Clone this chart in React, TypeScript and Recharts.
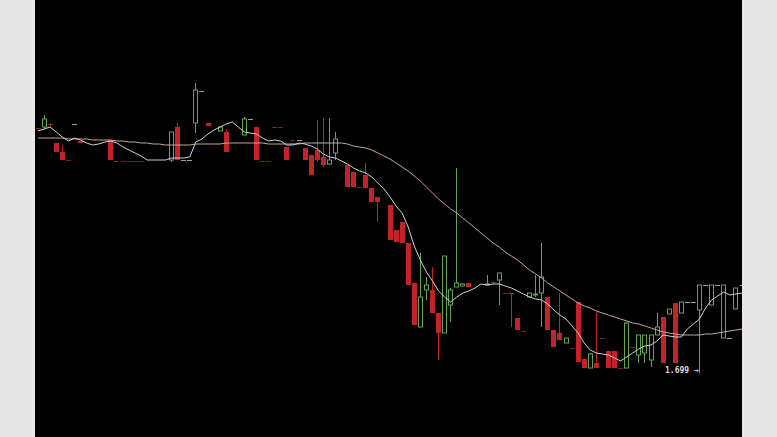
import React from "react";
import { ComposedChart, Bar, Line, XAxis, YAxis } from "recharts";

// Price series (null = no trade in that slot)
const openPrices: (number | null)[] = [
  4.09, 4.10, 4.13, 3.94, 3.85, 3.77, 4.13, 3.96, null, null,
  null, null, 3.97, 3.76, 3.76, 3.76, 3.76, 3.76, null, null,
  null, null, 3.77, 4.10, 3.77, 3.77, 4.14, 4.46, 4.14, null,
  4.06, 4.05, null, null, 4.02, 4.18, 4.10, 3.76, 3.76, 4.10,
  4.10, 3.90, 3.97, 3.97, 3.89, 3.82, 3.87, 3.80, 3.73, 3.84,
  null, 3.72, 3.65, 3.50, 3.62, 3.49, 3.40, null, 3.32, 3.07,
  3.15, 2.94, 2.54, 2.10, 2.47, 2.47, 2.24, 2.04, 2.32, 2.50,
  2.51, 2.54, null, null, 2.52, 2.55, 2.57, 2.44, 2.44, 2.19,
  2.06, 2.40, 2.42, 2.44, 2.40, 2.07, 2.04, 1.94, 1.89, 2.35,
  1.78, 1.69, 1.74, 1.99, 1.86, 1.86, 1.69, 1.69, 1.90, 1.82,
  1.84, 1.77, 2.02, 2.20, 2.23, 2.34, 2.24, 2.35, 2.35, 2.27,
  2.52, 2.32, 2.52, 1.99, 1.99, 2.28, 2.52,
];
const highPrices: (number | null)[] = [
  4.09, 4.22, 4.14, 3.94, 3.92, 3.77, 4.13, 3.96, null, null,
  null, null, 3.97, 3.76, 3.76, 3.76, 3.76, 3.76, null, null,
  null, null, 4.05, 4.14, 3.77, 3.77, 4.54, 4.46, 4.14, null,
  4.10, 4.08, null, null, 4.20, 4.18, 4.10, 3.76, 3.76, 4.10,
  4.10, 3.90, 3.97, 3.97, 3.89, 3.82, 4.17, 4.19, 4.19, 4.05,
  null, 3.72, 3.65, 3.50, 3.74, 3.49, 3.40, null, 3.32, 3.07,
  3.15, 2.94, 2.54, 2.84, 2.60, 2.70, 2.24, 2.81, 2.49, 3.69,
  2.54, 2.54, null, null, 2.62, 2.56, 2.64, 2.44, 2.44, 2.19,
  2.06, 2.44, 2.62, 2.94, 2.40, 2.07, 2.44, 1.99, 1.89, 2.35,
  1.78, 1.84, 2.25, 1.99, 1.86, 1.86, 1.69, 2.15, 1.90, 2.02,
  2.02, 2.02, 2.24, 2.20, 2.28, 2.34, 2.35, 2.35, 2.35, 2.52,
  2.52, 2.52, 2.52, 2.52, 1.99, 2.49, 2.52,
];
const lowPrices: (number | null)[] = [
  4.09, 4.09, 4.09, 3.85, 3.77, 3.77, 4.13, 3.94, null, null,
  null, null, 3.77, 3.76, 3.76, 3.76, 3.76, 3.76, null, null,
  null, null, 3.75, 3.77, 3.77, 3.77, 4.04, 4.46, 4.11, null,
  4.06, 3.85, null, null, 4.02, 4.18, 3.77, 3.76, 3.76, 4.10,
  4.10, 3.77, 3.97, 3.97, 3.77, 3.62, 3.75, 3.70, 3.72, 3.77,
  null, 3.50, 3.50, 3.50, 3.49, 3.35, 3.15, null, 2.97, 2.95,
  2.94, 2.52, 2.12, 2.10, 2.37, 2.24, 1.77, 2.04, 2.15, 2.50,
  2.51, 2.50, null, null, 2.52, 2.53, 2.32, 2.44, 2.10, 2.07,
  2.06, 2.40, 2.40, 2.10, 2.07, 1.90, 1.97, 1.94, 1.89, 1.75,
  1.69, 1.69, 1.69, 1.99, 1.69, 1.69, 1.69, 1.69, 1.90, 1.74,
  1.74, 1.70, 2.02, 1.74, 2.23, 1.74, 2.24, 2.35, 2.35, 1.64,
  2.52, 2.32, 2.52, 1.99, 1.99, 2.28, 2.52,
];
const closePrices: (number | null)[] = [
  4.09, 4.18, 4.13, 3.85, 3.77, 3.77, 4.13, 3.94, null, null,
  null, null, 3.77, 3.76, 3.76, 3.76, 3.76, 3.76, null, null,
  null, null, 4.05, 3.77, 3.77, 3.77, 4.47, 4.46, 4.11, null,
  4.10, 3.85, null, null, 4.18, 4.18, 3.77, 3.76, 3.76, 4.10,
  4.10, 3.77, 3.97, 3.97, 3.77, 3.62, 3.77, 3.72, 3.77, 3.98,
  null, 3.50, 3.50, 3.50, 3.49, 3.35, 3.35, null, 2.97, 2.95,
  2.94, 2.52, 2.12, 2.40, 2.52, 2.24, 2.04, 2.81, 2.47, 2.54,
  2.53, 2.50, null, null, 2.53, 2.55, 2.64, 2.44, 2.43, 2.07,
  2.06, 2.44, 2.43, 2.60, 2.07, 1.90, 1.97, 1.99, 1.89, 1.75,
  1.69, 1.83, 1.69, 1.99, 1.69, 1.69, 1.69, 2.14, 1.90, 2.02,
  2.02, 2.02, 2.10, 1.74, 2.28, 1.74, 2.35, 2.35, 2.35, 2.52,
  2.52, 2.52, 2.52, 2.52, 1.99, 2.49, 2.52,
];
// Moving-average lines
const fastMA: number[] = [
  4.06, 4.08, 4.10, 4.05, 4.00, 3.96, 3.99, 3.97, 3.94, 3.92,
  3.93, 3.95, 3.96, 3.94, 3.90, 3.87, 3.84, 3.81, 3.77, 3.77,
  3.77, 3.77, 3.79, 3.79, 3.79, 3.80, 3.95, 3.98, 4.03, 4.07,
  4.10, 4.13, 4.15, 4.10, 4.05, 4.04, 4.03, 3.99, 3.96, 3.97,
  3.96, 3.92, 3.92, 3.94, 3.93, 3.91, 3.88, 3.83, 3.80, 3.79,
  3.76, 3.73, 3.69, 3.66, 3.64, 3.60, 3.54, 3.48, 3.40, 3.31,
  3.24, 3.10, 2.91, 2.77, 2.65, 2.56, 2.46, 2.40, 2.35, 2.40,
  2.44, 2.46, 2.49, 2.53, 2.52, 2.53, 2.53, 2.51, 2.49, 2.46,
  2.43, 2.40, 2.38, 2.37, 2.33, 2.27, 2.22, 2.18, 2.11, 2.04,
  1.94, 1.87, 1.84, 1.83, 1.82, 1.79, 1.76, 1.80, 1.84, 1.88,
  1.91, 1.92, 1.96, 2.02, 2.01, 2.00, 2.00, 2.08, 2.13, 2.18,
  2.29, 2.37, 2.41, 2.45, 2.42, 2.43, 2.44,
];
const slowMA: number[] = [
  3.99, 3.99, 3.99, 3.99, 3.99, 3.98, 3.98, 3.98, 3.98, 3.97,
  3.97, 3.97, 3.97, 3.96, 3.96, 3.95, 3.95, 3.94, 3.94, 3.93,
  3.93, 3.92, 3.92, 3.92, 3.92, 3.92, 3.93, 3.93, 3.93, 3.93,
  3.93, 3.94, 3.94, 3.94, 3.94, 3.94, 3.94, 3.94, 3.93, 3.93,
  3.93, 3.93, 3.93, 3.93, 3.94, 3.94, 3.94, 3.94, 3.94, 3.94,
  3.94, 3.93, 3.91, 3.90, 3.89, 3.87, 3.84, 3.81, 3.78, 3.74,
  3.70, 3.66, 3.61, 3.56, 3.50, 3.44, 3.38, 3.33, 3.28, 3.24,
  3.19, 3.14, 3.09, 3.04, 2.99, 2.94, 2.90, 2.85, 2.81, 2.77,
  2.72, 2.67, 2.63, 2.59, 2.54, 2.50, 2.46, 2.42, 2.38, 2.34,
  2.31, 2.29, 2.26, 2.24, 2.22, 2.20, 2.18, 2.16, 2.14, 2.13,
  2.11, 2.09, 2.07, 2.05, 2.04, 2.03, 2.02, 2.02, 2.02, 2.02,
  2.03, 2.03, 2.04, 2.05, 2.06, 2.07, 2.08,
];
const priceDomain: [number, number] = [1.0, 5.37];
const lowLabel = "1.699 →";

const data = openPrices.map((o, i) => ({
  slot: i,
  open: o,
  high: highPrices[i],
  low: lowPrices[i],
  close: closePrices[i],
  range: o == null ? null : [lowPrices[i] as number, highPrices[i] as number],
  fast: fastMA[i],
  slow: slowMA[i],
}));

const RED = "#c4222b";
const GREEN = "#64a552";
const DOJI_RED = "#7a2424";
const DOJI_GRAY = "#a0a0a0";

function prevClose(i: number): number | null {
  for (let k = i - 1; k >= 0; k--) {
    if (closePrices[k] != null) return closePrices[k];
  }
  return null;
}

const Candle = (props: any) => {
  const { x, y, width, height, payload, index } = props;
  if (!payload || payload.open == null || y == null) return null;
  const { open, close, high, low } = payload;
  const span = high - low;
  const h = Math.abs(height || 0);
  const toY = (v: number) => (span > 0 ? y + ((high - v) / span) * h : y);
  const cx = Math.floor(x + width / 2) + 0.5;
  const yH = toY(high);
  const yL = toY(low);
  const yO = toY(open);
  const yC = toY(close);
  if (open === close) {
    const pc = prevClose(index);
    const col = pc != null && close > pc ? DOJI_GRAY : DOJI_RED;
    const yy = Math.round(yO) + 0.5;
    return (
      <g>
        {span > 0 && <line x1={cx} x2={cx} y1={yH} y2={yL} stroke={col} strokeWidth={1} />}
        <line x1={cx - 2.5} x2={cx + 2.5} y1={yy} y2={yy} stroke={col} strokeWidth={1} />
      </g>
    );
  }
  const top = Math.min(yO, yC);
  const bot = Math.max(yO, yC);
  if (close > open) {
    return (
      <g>
        <line x1={cx} x2={cx} y1={yH} y2={top} stroke={GREEN} strokeWidth={1} />
        <line x1={cx} x2={cx} y1={bot} y2={yL} stroke={GREEN} strokeWidth={1} />
        <rect x={cx - 2} y={top} width={4} height={Math.max(bot - top, 1)} fill="#000" stroke={GREEN} strokeWidth={1} />
      </g>
    );
  }
  return (
    <g>
      <line x1={cx} x2={cx} y1={yH} y2={yL} stroke={RED} strokeWidth={1} />
      <rect x={cx - 2.5} y={top} width={5} height={Math.max(bot - top, 1)} fill={RED} />
    </g>
  );
};

export default function App() {
  return (
    <div style={{ position: "absolute", left: 0, top: 0, width: 777, height: 437, background: "#e7e7e7" }}>
      <div style={{ position: "absolute", left: 35, top: 0, width: 707, height: 437, background: "#000", overflow: "hidden" }}>
        <ComposedChart width={710} height={437} data={data} margin={{ top: 0, right: 0, bottom: 0, left: 0 }}>
          <XAxis dataKey="slot" type="category" hide />
          <YAxis domain={priceDomain} type="number" hide allowDataOverflow />
          <Bar dataKey="range" shape={<Candle />} isAnimationActive={false} />
          <Line dataKey="slow" type="linear" stroke="#c9a794" strokeWidth={1} dot={false} activeDot={false} isAnimationActive={false} />
          <Line dataKey="fast" type="linear" stroke="#c6d5dc" strokeWidth={1} dot={false} activeDot={false} isAnimationActive={false} />
        </ComposedChart>
        <div style={{ position: "absolute", left: 630, top: 366, fontFamily: "'DejaVu Sans Mono', monospace", fontSize: 8, fontWeight: "bold", color: "#dcdcdc", whiteSpace: "nowrap" }}>
          {lowLabel}
        </div>
      </div>
    </div>
  );
}
